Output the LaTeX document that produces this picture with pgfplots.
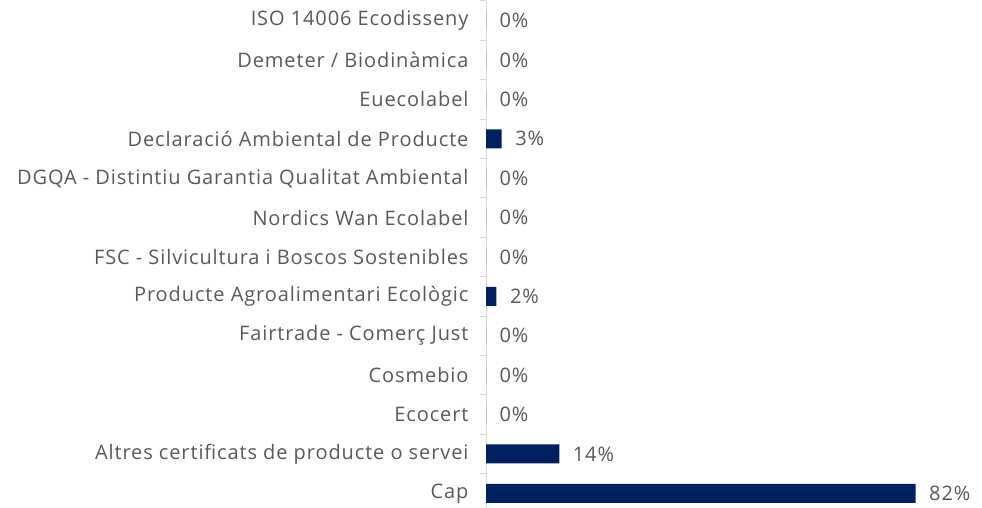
\documentclass[border=0pt]{standalone}
\usepackage{fontspec}
\setmainfont{Open Sans}[LetterSpace=4.5]
\usepackage{pgfplots}
\pgfplotsset{compat=1.18}
\definecolor{barblue}{HTML}{002060}
\definecolor{txt}{HTML}{595959}
\definecolor{axgray}{HTML}{D9D9D9}

\begin{document}
\begin{tikzpicture}[x=1pt,y=1pt]
\useasboundingbox (0,0) rectangle (982,508);
\begin{axis}[
  at={(486pt,-5pt)}, anchor=south west,
  scale only axis, width=471.6pt, height=512pt,
  xbar, bar width=19pt,
  xmin=0, xmax=90,
  ymin=-0.5, ymax=12.5,
  axis x line=none,
  axis y line*=left,
  y axis line style={axgray, line width=1pt},
  ytick={0,...,12},
  yticklabels={Cap, Altres certificats de producte o servei, Ecocert, Cosmebio,
    Fairtrade - Comerç Just, Producte Agroalimentari Ecològic,
    FSC - Silvicultura i Boscos Sostenibles, Nordics Wan Ecolabel,
    DGQA - Distintiu Garantia Qualitat Ambiental, Declaració Ambiental de Producte,
    Euecolabel, Demeter / Biodinàmica, ISO 14006 Ecodisseny},
  major tick length=0pt,
  minor ytick={-0.5,0.5,...,12.5},
  minor tick length=6pt,
  tick align=outside,
  minor tick style={axgray, line width=1pt},
  yticklabel style={font=\fontsize{20}{23}\selectfont, text=txt, xshift=-14pt},
  /pgf/number format/assume math mode=true,
  point meta=x,
  nodes near coords={\pgfmathprintnumber{\pgfplotspointmeta}\%},
  nodes near coords style={font=\fontsize{20}{23}\selectfont, text=txt, anchor=west, xshift=10pt},
]
\addplot[fill=barblue, draw=none] coordinates {
  (82,0) (14,1) (0,2) (0,3) (0,4) (2,5) (0,6) (0,7) (0,8) (3,9) (0,10) (0,11) (0,12)
};
\end{axis}
\end{tikzpicture}
\end{document}
